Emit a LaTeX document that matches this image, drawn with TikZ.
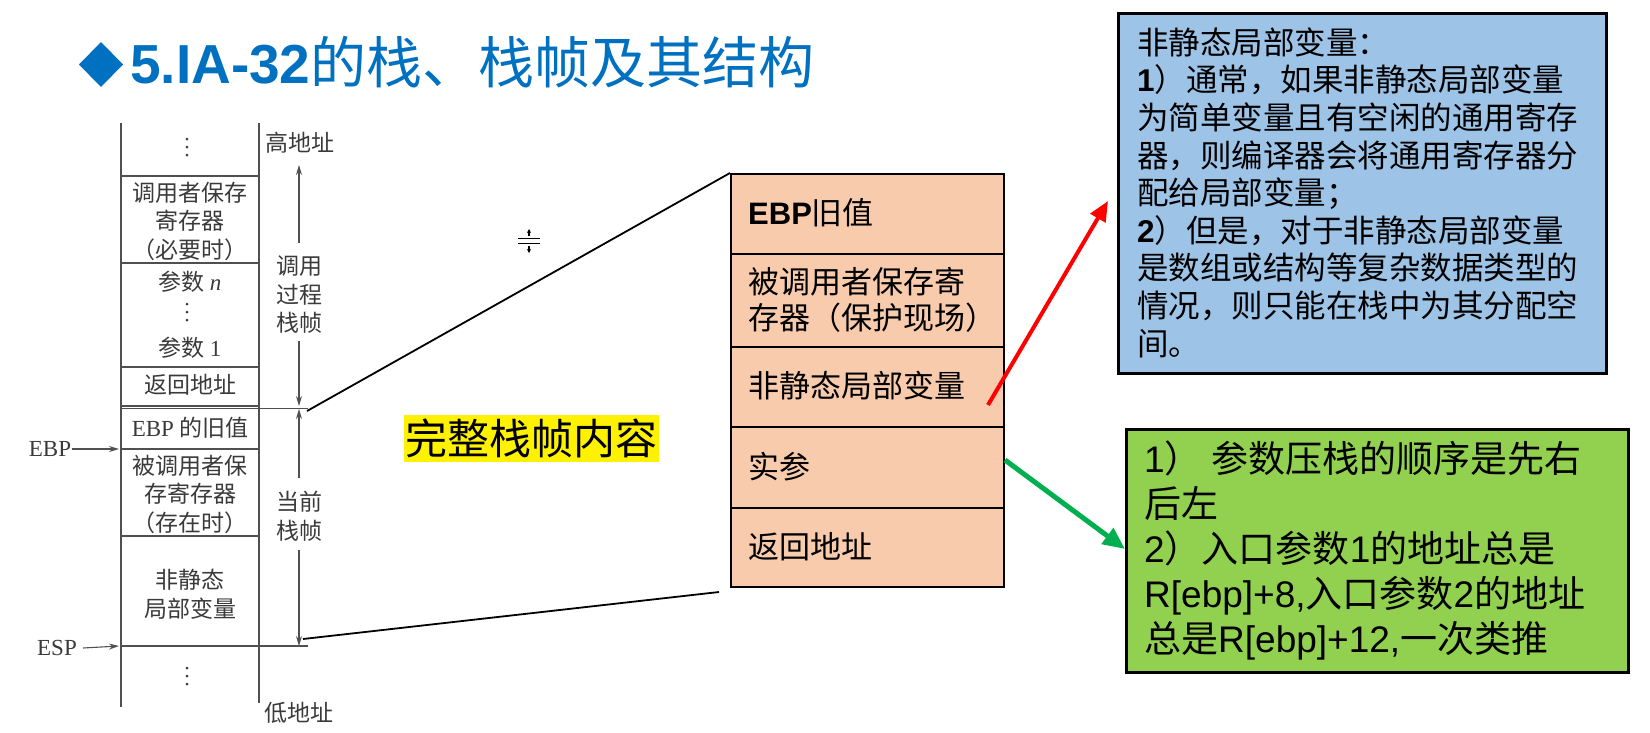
\documentclass[tikz,border=0pt]{standalone}
\usepackage{fontspec}
\setmainfont{Noto Sans CJK SC}
\newfontfamily\ar{Liberation Sans}
\newfontfamily\srf{Liberation Serif}
\usetikzlibrary{arrows.meta}
\definecolor{titleblue}{HTML}{0070C0}
\definecolor{peach}{HTML}{F8CBAD}
\definecolor{skyblue}{HTML}{9DC3E6}
\definecolor{leafgreen}{HTML}{92D050}
\definecolor{arrowgreen}{HTML}{00B050}
\definecolor{scan}{HTML}{3A3A3A}
\definecolor{scanline}{HTML}{505050}
% three small dots standing for omitted stack slots
\newcommand\stackdots[2]{\foreach \d in {-8,0,8} \fill[scan] (#1,#2+\d) circle (1.5pt);}

\begin{document}
\begin{tikzpicture}[x=1pt,y=-1pt,
  scantext/.style={text=scan, font=\fontsize{23}{28.5}\selectfont, align=center, inner sep=0pt},
  scanrule/.style={draw=scanline, line width=1.3pt},
  heavyrule/.style={draw=scanline, line width=2.6pt},
  scanarrow/.style={draw=scanline, line width=1.1pt, -{Stealth[length=10pt,width=6pt]}},
  cell/.style={draw=black, line width=2pt, fill=peach, minimum width=273pt, inner sep=0pt, anchor=north west},
  celltext/.style={anchor=west, inner sep=0pt, align=left, font=\fontsize{31}{36}\selectfont},
  link/.style={draw=black, line width=1.8pt},
  notebox/.style={draw=black, line width=2.5pt, inner sep=0pt, anchor=north west},
  notetext/.style={anchor=west, inner sep=0pt, align=left},
]
\useasboundingbox (0,0) rectangle (1650,732);

% ---- title ----
\fill[titleblue] (101,42) -- (123,64.5) -- (101,87) -- (79,64.5) -- cycle;
\node[anchor=base west, inner sep=0pt, text=titleblue, font=\fontsize{56}{60}\selectfont] (title) at (130,83)
  {{\ar\bfseries\fontsize{55}{60}\selectfont 5.IA-32}的栈、栈帧及其结构};

% ---- stack layout (left) ----
\draw[scanrule] (121,123) -- (121,707);
\draw[scanrule] (259,123) -- (259,703);
\draw[scanrule] (121,176) -- (259,176);
\draw[scanrule] (121,263) -- (259,263);
\draw[scanrule] (121,367) -- (259,367);
\draw[heavyrule] (121,406) -- (259,406);
\draw[scanrule] (121,408.5) -- (308,408.5);
\draw[scanrule] (121,449) -- (259,449);
\draw[scanrule] (121,536) -- (259,536);
\draw[heavyrule] (121,646) -- (259,646);
\draw[scanrule] (259,646) -- (308,646);

\stackdots{187}{147}
\stackdots{187}{312}
\stackdots{187}{676}

\node[scantext] (callersave) at (190,221) {调用者保存\\寄存器\\（必要时）};
\node[scantext] (argn) at (190,282) {参数 {\srf\itshape n}};
\node[scantext] (arg1) at (190,348) {参数 {\srf 1}};
\node[scantext] (retaddr) at (190,385) {返回地址};
\node[scantext] (oldebp) at (190,428) {{\srf EBP} 的旧值};
\node[scantext] (calleesave) at (190,494) {被调用者保\\存寄存器\\（存在时）};
\node[scantext] (locals) at (190,594) {非静态\\局部变量};

\node[scantext] (hiaddr) at (300,143) {高地址};
\node[scantext] (loaddr) at (299,713) {低地址};
\node[scantext] (callerframe) at (299,295) {调用\\过程\\栈帧};
\node[scantext] (curframe) at (299,516) {当前\\栈帧};

\node[scantext, font=\srf\fontsize{23}{28}\selectfont] (ebp) at (50,449) {EBP};
\node[scantext, font=\srf\fontsize{23}{28}\selectfont] (esp) at (57,648) {ESP};
\coordinate (ebpTip) at (119,449);
\coordinate (espTip) at (119,646);
\draw[scanarrow] (ebp.east) ++(1,0) -- (ebpTip);
\draw[scanarrow] (esp.east) ++(6,0) -- (espTip);

\coordinate (callerTop) at (299,165);
\coordinate (callerBot) at (299,406);
\coordinate (curTop) at (299,409);
\coordinate (curBot) at (299,646);
\draw[scanarrow] (299,243) -- (callerTop);
\draw[scanarrow] (299,341) -- (callerBot);
\draw[scanarrow] (299,478) -- (curTop);
\draw[scanarrow] (299,550) -- (curBot);

% ---- enlarged frame (middle) ----
\node[cell, minimum height=80pt] (c1) at (730,173) {};
\node[cell, minimum height=93pt] (c2) at (730,253) {};
\node[cell, minimum height=80pt] (c3) at (730,346) {};
\node[cell, minimum height=81pt] (c4) at (730,426) {};
\node[cell, minimum height=79pt] (c5) at (730,507) {};
\node[celltext] (t1) at (748,213) {{\ar\bfseries EBP}旧值};
\node[celltext] (t2) at (748,300) {被调用者保存寄\\存器（保护现场）};
\node[celltext] (t3) at (748,386) {非静态局部变量};
\node[celltext] (t4) at (748,467) {实参};
\node[celltext] (t5) at (748,547) {返回地址};

\coordinate (frameTop) at (307,411);
\coordinate (frameBot) at (303,639);
\coordinate (zoomBot) at (719,592);
\draw[link] (frameTop) -- (c1.north west);
\draw[link] (frameBot) -- (zoomBot);

% resize cursor glyph
\draw[line width=1.5pt] (518,238.5) -- (540,238.5) (518,243.5) -- (540,243.5);
\draw[line width=1.2pt, -{Stealth[length=4pt,width=4pt]}] (529,236) -- (529,229);
\draw[line width=1.2pt, -{Stealth[length=4pt,width=4pt]}] (529,246) -- (529,253);

\node[fill=yellow, inner xsep=1.5pt, inner ysep=4pt, font=\fontsize{42}{46}\selectfont] (whole) at (531.5,438.5) {完整栈帧内容};

% ---- notes (right) ----
\node[notebox, fill=skyblue, minimum width=488pt, minimum height=360pt] (blue) at (1117,12) {};
\node[notetext, font=\fontsize{31.5}{37.6}\selectfont] (bluetext) at (1137,192.5) {非静态局部变量：\\
{\ar\bfseries 1}）通常，如果非静态局部变量\\
为简单变量且有空闲的通用寄存\\
器，则编译器会将通用寄存器分\\
配给局部变量；\\
{\ar\bfseries 2}）但是，对于非静态局部变量\\
是数组或结构等复杂数据类型的\\
情况，则只能在栈中为其分配空\\
间。};

\node[notebox, fill=leafgreen, minimum width=502pt, minimum height=243pt] (green) at (1125,428) {};
\node[notetext, font=\fontsize{37}{45}\selectfont] (greentext) at (1144,550) {{\ar 1}）\hspace{10pt}参数压栈的顺序是先右\\
后左\\
{\ar 2}）入口参数{\ar 1}的地址总是\\
{\ar R[ebp]+8,}入口参数{\ar 2}的地址\\
总是{\ar R[ebp]+12,}一次类推};

\coordinate (redStart) at (988,405);
\coordinate (redTip) at (1108,201);
\draw[red, line width=4pt, -{Triangle[length=20pt,width=17pt]}] (redStart) -- (redTip);
\coordinate (greenStart) at (1005,460);
\coordinate (greenTip) at (1125,549);
\draw[arrowgreen, line width=5pt, -{Triangle[length=22pt,width=19pt]}] (greenStart) -- (greenTip);
\end{tikzpicture}
\end{document}
